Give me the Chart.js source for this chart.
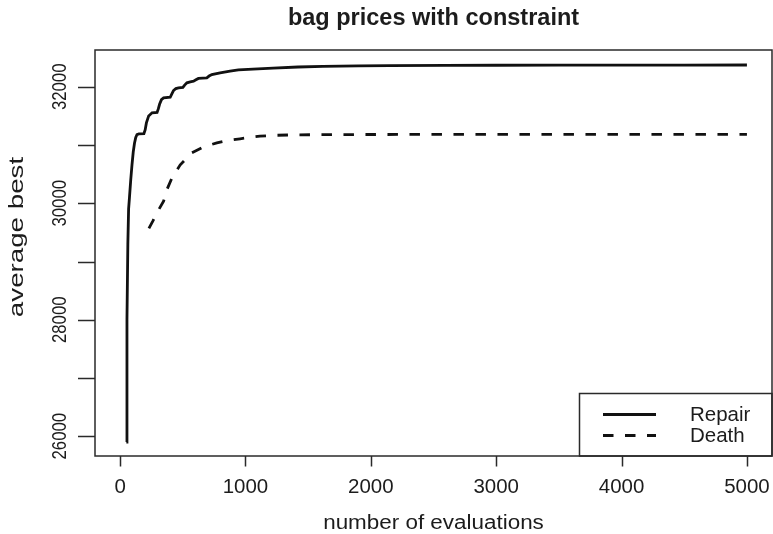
<!DOCTYPE html>
<html>
<head>
<meta charset="utf-8">
<title>bag prices with constraint</title>
<script src="https://cdn.jsdelivr.net/npm/chart.js@4"></script>
<style>
  html, body { margin: 0; padding: 0; background: #fff; }
  #wrap { width: 773px; height: 534px; }
</style>
</head>
<body>
<div id="wrap"><canvas id="bagChart" width="773" height="534"></canvas></div>
<script>
// average best value per number of evaluations, two constraint handlers
const repairEvals = [50, 55, 62, 68, 75, 85, 95, 105, 115, 125, 135, 150, 190, 200, 210, 228, 255, 295,
    305, 315, 330, 347, 400, 413, 426, 445, 466, 501, 515, 533, 560, 586, 605, 625, 660, 692, 710, 732,
    798, 877, 944, 1060, 1220, 1420, 1617, 1900, 2150, 2600, 3000, 3500, 4000, 4500, 5000];
const repairBest = [25900, 28000, 29300, 29900, 30100, 30400, 30660, 30880, 31030, 31130, 31180, 31190,
    31195, 31260, 31380, 31500, 31553, 31560, 31620, 31700, 31780, 31811, 31821, 31880, 31936, 31970,
    31983, 31990, 32030, 32069, 32085, 32096, 32120, 32143, 32150, 32155, 32185, 32211, 32240, 32268,
    32290, 32305, 32320, 32340, 32352, 32360, 32365, 32368, 32370, 32371, 32372, 32373, 32374];

const deathEvals = [230, 260, 300, 347, 374, 414, 450, 480, 520, 573, 650, 700, 772, 850, 957, 1050,
    1116, 1250, 1400, 1700, 2000, 3000, 4000, 5000];
const deathBest = [29570, 29690, 29860, 30035, 30236, 30437, 30560, 30660, 30750, 30867, 30950, 30990,
    31038, 31075, 31107, 31135, 31152, 31168, 31175, 31179, 31181, 31183, 31183, 31183];

const seriesNames = ['Repair', 'Death'];
const xTicks = [0, 1000, 2000, 3000, 4000, 5000];
const yTicks = [26000, 27000, 28000, 29000, 30000, 31000, 32000];
const yTickLabels = ['26000', '', '28000', '', '30000', '', '32000'];

const chartTitle = 'bag prices with constraint';
const xTitle = 'number of evaluations';
const yTitle = 'average best';

const FONT = '"Liberation Sans", Arial, Helvetica, sans-serif';
const INK = '#1c1c1c';

function toPoints(xs, ys) {
    return xs.map((x, i) => ({ x: x, y: ys[i] }));
}

// text helper: optional rotation and stretch along the text direction
function drawText(ctx, text, x, y, opts) {
    ctx.save();
    ctx.translate(x, y);
    if (opts.rot) ctx.rotate(opts.rot);
    ctx.scale(opts.sx || 1, opts.sy || 1);
    ctx.font = opts.font;
    ctx.fillStyle = INK;
    ctx.textAlign = opts.align || 'center';
    ctx.textBaseline = 'alphabetic';
    ctx.fillText(text, 0, 0);
    ctx.restore();
}

// base-graphics style frame, axes, titles and legend
const framePlugin = {
    id: 'frame',
    afterDatasetsDraw(chart) {
        const ctx = chart.ctx;
        const area = chart.chartArea;
        const xs = chart.scales.x;
        const ys = chart.scales.y;

        ctx.save();
        ctx.strokeStyle = '#2a2a2a';
        ctx.lineWidth = 1.5;
        ctx.strokeRect(area.left, area.top, area.right - area.left, area.bottom - area.top);

        ctx.beginPath();
        xTicks.forEach(v => {
            const px = Math.round(xs.getPixelForValue(v)) + 0.5;
            ctx.moveTo(px, area.bottom);
            ctx.lineTo(px, area.bottom + 10.5);
        });
        yTicks.forEach(v => {
            const py = Math.round(ys.getPixelForValue(v)) + 0.5;
            ctx.moveTo(area.left, py);
            ctx.lineTo(area.left - 17, py);
        });
        ctx.stroke();
        ctx.restore();

        xTicks.forEach(v => {
            drawText(ctx, String(v), xs.getPixelForValue(v), 493, { font: '19.5px ' + FONT, sx: 1.05 });
        });
        yTicks.forEach((v, i) => {
            if (!yTickLabels[i]) return;
            drawText(ctx, yTickLabels[i], 65.5, ys.getPixelForValue(v),
                { font: '19.5px ' + FONT, rot: -Math.PI / 2, sx: 0.86 });
        });

        const midX = (area.left + area.right) / 2;
        drawText(ctx, chartTitle, midX, 25, { font: 'bold 23.5px ' + FONT });
        drawText(ctx, xTitle, midX, 529, { font: '19.5px ' + FONT, sx: 1.15 });
        drawText(ctx, yTitle, 22.5, 237, { font: '21px ' + FONT, rot: -Math.PI / 2, sx: 1.32 });

        // legend box in the bottom right corner
        const box = { left: 579.5, top: 393.5 };
        ctx.save();
        ctx.strokeStyle = '#2a2a2a';
        ctx.lineWidth = 1.5;
        ctx.strokeRect(box.left, box.top, area.right - box.left, area.bottom - box.top);
        chart.data.datasets.forEach((ds, i) => {
            const ly = 414.5 + i * 21;
            ctx.beginPath();
            ctx.strokeStyle = ds.borderColor;
            ctx.lineWidth = ds.borderWidth;
            ctx.lineCap = 'butt';
            ctx.setLineDash(ds.borderDash || []);
            ctx.moveTo(603, ly);
            ctx.lineTo(656, ly);
            ctx.stroke();
            ctx.setLineDash([]);
            drawText(ctx, ds.label, 690, ly + 6.5, { font: '20.5px ' + FONT, align: 'left' });
        });
        ctx.restore();
    }
};

const ctx = document.getElementById('bagChart').getContext('2d');
new Chart(ctx, {
    type: 'line',
    data: {
        datasets: [{
            label: seriesNames[0],
            data: toPoints(repairEvals, repairBest),
            borderColor: '#111',
            borderWidth: 2.8,
            borderDash: [],
            pointRadius: 0,
            tension: 0,
            fill: false
        }, {
            label: seriesNames[1],
            data: toPoints(deathEvals, deathBest),
            borderColor: '#111',
            borderWidth: 2.8,
            borderDash: [10.5, 11.5],
            borderCapStyle: 'butt',
            pointRadius: 0,
            tension: 0,
            fill: false
        }]
    },
    options: {
        responsive: false,
        animation: false,
        devicePixelRatio: 1,
        layout: {
            padding: { left: 95, top: 50, right: 1, bottom: 78 }
        },
        scales: {
            x: { type: 'linear', min: -200, max: 5200, display: false },
            y: { type: 'linear', min: 25660, max: 32632, display: false }
        },
        plugins: {
            legend: { display: false },
            tooltip: { enabled: false },
            title: { display: false }
        }
    },
    plugins: [framePlugin]
});
</script>
</body>
</html>
